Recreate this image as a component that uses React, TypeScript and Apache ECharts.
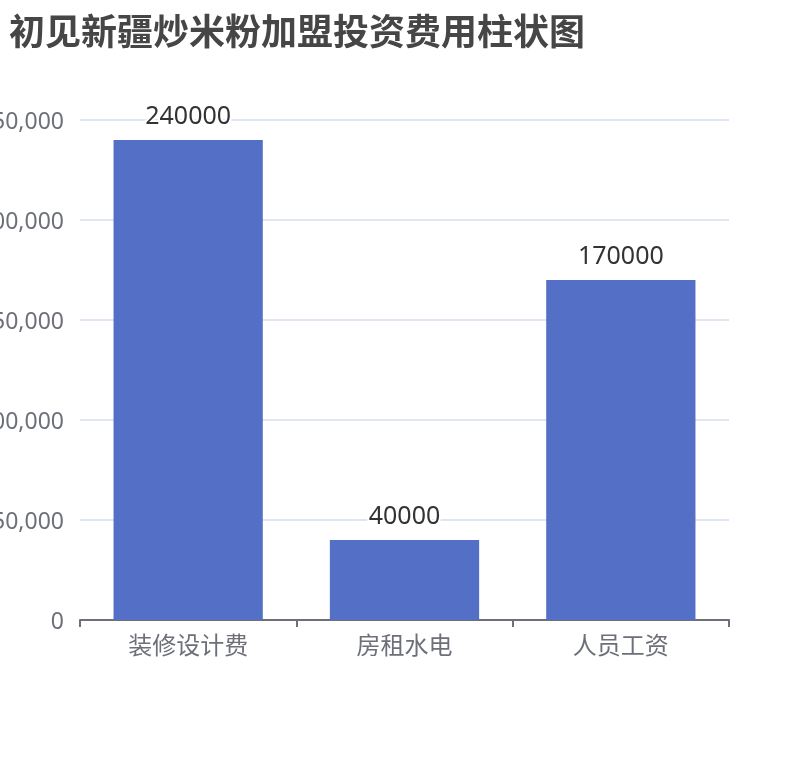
import { useEffect, useRef } from 'react';
import * as echarts from 'echarts';

const titleText = '初见新疆炒米粉加盟投资费用柱状图';
const categories = ['装修设计费', '房租水电', '人员工资'];
const costs = [240000, 40000, 170000];

export default function App() {
  const ref = useRef<HTMLDivElement>(null);

  useEffect(() => {
    if (!ref.current) return;
    const chart = echarts.init(ref.current, undefined, { renderer: 'svg' });

    const option: any = {
      animation: false,
      textStyle: { fontFamily: '"Noto Sans", "Noto Sans CJK SC", sans-serif' },
      title: {
        text: titleText,
        left: 4,
        top: 8,
        textStyle: { fontSize: 36, fontWeight: 'bold', color: '#464646' },
      },
      grid: { left: 80, right: 81, top: 120, bottom: 140, outerBoundsMode: 'none' },
      xAxis: {
        type: 'category',
        data: categories,
        axisLine: { lineStyle: { color: '#6E7079', width: 2 } },
        axisTick: { show: true, length: 7, lineStyle: { color: '#6E7079', width: 2 } },
        axisLabel: { fontSize: 24, color: '#6E7079', margin: 12 },
      },
      yAxis: {
        type: 'value',
        min: 0,
        max: 250000,
        interval: 50000,
        axisLabel: {
          fontSize: 23,
          color: '#6E7079',
          margin: 16,
          formatter: (v: number) => v.toLocaleString('en-US'),
        },
        splitLine: { lineStyle: { color: '#E0E6F1', width: 2 } },
      },
      series: [
        {
          type: 'bar',
          data: costs,
          barWidth: '69%',
          itemStyle: { color: '#5470C6' },
          label: {
            show: true,
            position: 'top',
            distance: 14,
            fontSize: 25,
            color: '#333',
            textBorderColor: '#fff',
            textBorderWidth: 4,
          },
        },
      ],
    };

    chart.setOption(option);
    return () => chart.dispose();
  }, []);

  return (
    <div
      ref={ref}
      style={{ position: 'fixed', left: 0, top: 0, width: 810, height: 760 }}
    />
  );
}
